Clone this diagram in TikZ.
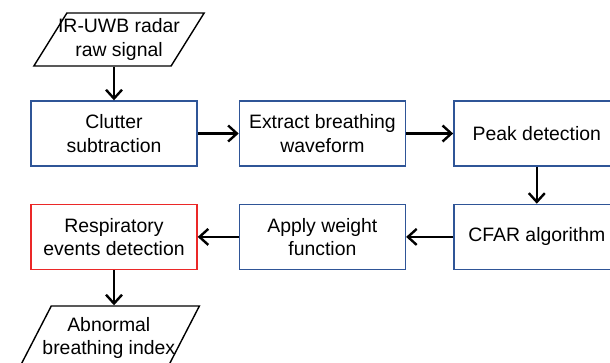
\documentclass[tikz,border=0pt]{standalone}
\usepackage{fontspec}
\setmainfont{Liberation Sans}
\usepackage{xcolor}
\definecolor{boxblue}{RGB}{47, 85, 151}
\definecolor{boxred}{RGB}{235, 40, 40}
\usetikzlibrary{shapes.geometric,arrows.meta,positioning}

\begin{document}
\begin{tikzpicture}[
  procbox/.style={draw=boxblue, line width=1pt, align=center, minimum width=4.15cm, minimum height=1.625cm, inner sep=2pt, font=\fontsize{13.8}{16.5}\selectfont},
  eventbox/.style={procbox, draw=boxred},
  iobox/.style={trapezium, trapezium left angle=57, trapezium right angle=123, trapezium stretches=true, draw=black, line width=1pt, align=center, inner xsep=-0.22cm, inner ysep=0.12cm, minimum height=1.325cm, font=\fontsize{13.8}{16.5}\selectfont},
  arrow/.style={-{Straight Barb[length=2.2mm,width=4mm]}, line width=1.7pt}
]
\useasboundingbox (0,0) rectangle (15.25,-9.05);
\clip (0,0) rectangle (15.25,-9.05);

\node[iobox] (raw) at (2.975,-0.9875) {IR-UWB radar\\raw signal};

\node[procbox] (clutter) at (2.85,-3.3375) {Clutter\\subtraction};
\node[procbox, right=1.025cm of clutter] (extract) {Extract breathing\\waveform};
\node[procbox, right=1.175cm of extract] (peak) {Peak detection};

\node[procbox, below=0.925cm of peak] (cfar) {CFAR algorithm};
\node[procbox, left=1.175cm of cfar] (weight) {Apply weight\\function};
\node[eventbox, left=1.025cm of weight] (resp) {Respiratory\\events detection};

\node[iobox, minimum height=1.6cm] (abnormal) at (2.72,-8.45) {Abnormal\\breathing index};

% main flow
\draw[arrow] (clutter.north |- raw.south) -- (clutter.north);
\draw[arrow] (clutter) -- (extract);
\draw[arrow] (extract) -- (peak);
\draw[arrow] (peak) -- (cfar);
\draw[arrow] (cfar) -- (weight);
\draw[arrow] (weight) -- (resp);
\draw[arrow] (resp.south) -- (resp.south |- abnormal.north);
\end{tikzpicture}
\end{document}
